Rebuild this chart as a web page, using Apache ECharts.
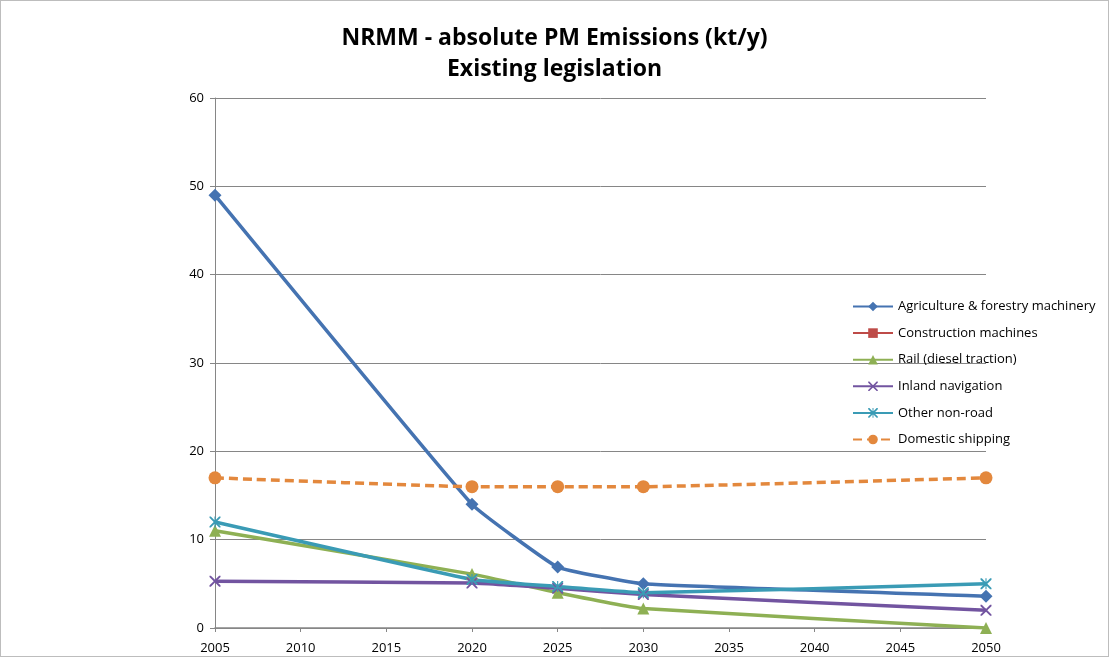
<!DOCTYPE html>
<html><head><meta charset="utf-8">
<script src="https://cdn.jsdelivr.net/npm/echarts@6/dist/echarts.min.js"></script>
<style>html,body{margin:0;padding:0;background:#fff}#c{width:1107px;height:655px;border:1px solid #bdbdbd}</style>
</head><body><div id="c"></div>
<script>
const years = [2005, 2020, 2025, 2030, 2050];
const agriculture = [49, 14, 6.9, 5.0, 3.6];
const construction = [null, null, null, null, null];
const rail = [11, 6.1, 4.0, 2.2, 0];
const inland = [5.3, 5.1, 4.5, 3.8, 2.0];
const otherNonRoad = [12, 5.5, 4.7, 4.0, 5.0];
const domesticShipping = [17, 16, 16, 16, 17];
const yTicks = [0, 10, 20, 30, 40, 50, 60];
const xTicks = [2005, 2010, 2015, 2020, 2025, 2030, 2035, 2040, 2045, 2050];

const X_PATH = 'path://M0,0 L1.2,0 L5,3.8 L8.8,0 L10,0 L10,1.2 L6.2,5 L10,8.8 L10,10 L8.8,10 L5,6.2 L1.2,10 L0,10 L0,8.8 L3.8,5 L0,1.2 Z';
const AST_PATH = 'path://M0,0 L1.2,0 L5,3.8 L8.8,0 L10,0 L10,1.2 L6.2,5 L10,8.8 L10,10 L8.8,10 L5,6.2 L1.2,10 L0,10 L0,8.8 L3.8,5 L0,1.2 Z M4.5,0 L5.5,0 L5.5,10 L4.5,10 Z';

function pairs(arr){ return years.map((y,i)=>[y, arr[i]]); }
function mk(name, arr, color, symbol, size, dashed){
  return {
    name, type:'line', data: pairs(arr), smooth:0.1,
    symbol, symbolSize:size, showSymbol:true,
    lineStyle:{color, width:3.5, type: dashed ? [9,5] : 'solid'},
    itemStyle:{color},
    emphasis:{disabled:true}
  };
}
const chart = echarts.init(document.getElementById('c'));
chart.setOption({
  animation:false,
  title:{
    text:'NRMM - absolute PM Emissions (kt/y)\nExisting legislation',
    left:'center', top:17,
    textStyle:{fontFamily:'Open Sans', fontSize:23, fontWeight:'bold', color:'#000', lineHeight:31}
  },
  grid:{left:214, right:122, top:97, bottom:28, containLabel:false},
  legend:{
    orient:'vertical', left:846, top:294, itemWidth:40, itemHeight:12, itemGap:13.6,
    textStyle:{fontFamily:'Open Sans', fontSize:13, color:'#000'},
    data:['Agriculture & forestry machinery','Construction machines','Rail (diesel traction)','Inland navigation','Other non-road','Domestic shipping']
  },
  xAxis:{
    type:'value', min:2005, max:2050, interval:5,
    axisLine:{lineStyle:{color:'#868686', width:1.5}},
    axisTick:{show:true, length:4, lineStyle:{color:'#868686'}},
    axisLabel:{color:'#000', fontFamily:'Open Sans', fontSize:13, margin:14,
      formatter:v=>xTicks.includes(v)?String(v):''},
    splitLine:{show:false}
  },
  yAxis:{
    type:'value', min:0, max:60, interval:10,
    axisLine:{show:true, lineStyle:{color:'#868686', width:1}},
    axisTick:{show:true, length:5, lineStyle:{color:'#868686'}},
    axisLabel:{color:'#000', fontFamily:'Open Sans', fontSize:13, margin:11,
      formatter:v=>yTicks.includes(v)?String(v):''},
    splitLine:{show:true, lineStyle:{color:'#868686', width:1}}
  },
  series:[
    mk('Agriculture & forestry machinery', agriculture, '#4573b1', 'diamond', 13, false),
    mk('Construction machines', construction, '#be4b48', 'rect', 11, false),
    mk('Rail (diesel traction)', rail, '#8eb054', 'triangle', 12, false),
    mk('Inland navigation', inland, '#7254a0', X_PATH, 11, false),
    mk('Other non-road', otherNonRoad, '#3a9bb5', AST_PATH, 11, false),
    mk('Domestic shipping', domesticShipping, '#e3883d', 'circle', 13, true)
  ]
});
</script></body></html>
